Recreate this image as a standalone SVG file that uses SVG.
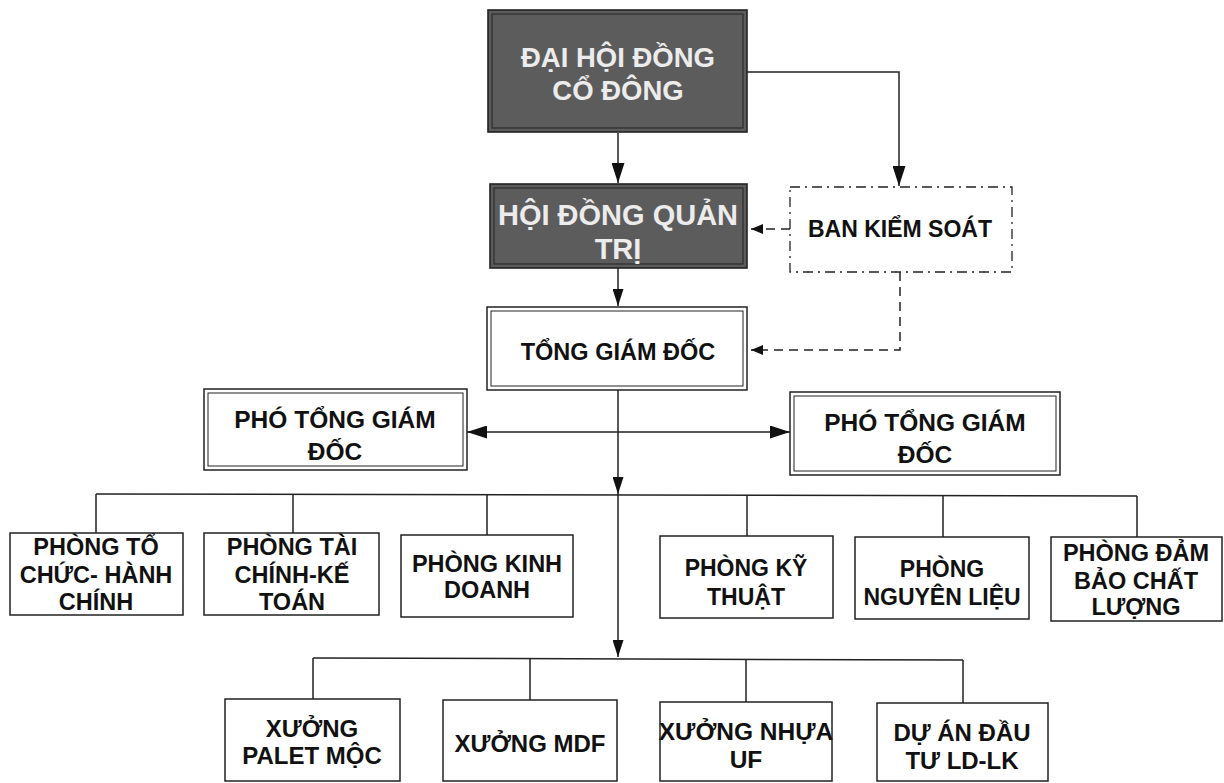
<svg xmlns="http://www.w3.org/2000/svg" width="1224" height="783" viewBox="0 0 1224 783">
<style>
.bg{fill:#ffffff}
.outer{fill:none;stroke:#222;stroke-width:1.6}
.inner{fill:none;stroke:#222;stroke-width:1}
.dark{fill:#5c5c5c}
.box{fill:#fff;stroke:#222;stroke-width:1.5}
.wt{font-family:"Liberation Sans",Arial,sans-serif;font-weight:bold;fill:#ececec;text-anchor:middle}
.bt{font-family:"Liberation Sans",Arial,sans-serif;font-weight:bold;fill:#111;text-anchor:middle}
.ln{fill:none;stroke:#222;stroke-width:1.5}
.dash{fill:none;stroke:#222;stroke-width:1.5;stroke-dasharray:9 6}
.dashdot{fill:#fff;stroke:#222;stroke-width:1.3;stroke-dasharray:10 5 2 5}
</style>
<defs>
<marker id="ah" viewBox="0 0 20 13" refX="20" refY="6.5" markerUnits="userSpaceOnUse" markerWidth="20" markerHeight="13" orient="auto-start-reverse">
<path d="M0,0 L20,6.5 L0,13 z" fill="#111"/>
</marker>
<marker id="ahm" viewBox="0 0 17 11" refX="17" refY="5.5" markerUnits="userSpaceOnUse" markerWidth="17" markerHeight="11" orient="auto">
<path d="M0,0 L17,5.5 L0,11 z" fill="#111"/>
</marker>
<marker id="ahs" viewBox="0 0 12 10" refX="12" refY="5" markerUnits="userSpaceOnUse" markerWidth="12" markerHeight="10" orient="auto">
<path d="M0,0 L12,5 L0,10 z" fill="#111"/>
</marker>
</defs>
<rect class="bg" x="0" y="0" width="1224" height="783"/>

<g id="connectors">
<path class="ln" d="M618,133 L618,183" marker-end="url(#ah)"/>
<path class="ln" d="M747,72 L899,72 L899,186" marker-end="url(#ah)"/>
<path class="dash" d="M790,229 L751,229" marker-end="url(#ahs)"/>
<path class="dash" d="M900,272 L900,350 L751,350" marker-end="url(#ahs)"/>
<path class="ln" d="M618,268 L618,306" marker-end="url(#ahm)"/>
<path class="ln" d="M618,390 L618,494" marker-end="url(#ahm)"/>
<path class="ln" d="M618,494 L618,657" marker-end="url(#ahm)"/>
<path class="ln" d="M467,432 L790,432" marker-start="url(#ah)" marker-end="url(#ah)"/>
<path class="ln" d="M96,494 L1137,496"/>
<path class="ln" d="M96,494 L96,533 M293,494 L293,533 M487,495 L487,535 M747,495 L747,536 M943,496 L943,537 M1137,496 L1137,537"/>
<path class="ln" d="M313,658 L963,660"/>
<path class="ln" d="M313,658 L313,699 M530,658 L530,700 M746,659 L746,702 M963,660 L963,703"/>
</g>

<g id="dhdcd">
<rect class="dark" x="488" y="10" width="259" height="122"/>
<rect class="outer" x="488" y="10" width="259" height="122"/>
<rect class="inner" x="492" y="14" width="251" height="114"/>
<text class="wt" x="618" y="67" font-size="27.5">ĐẠI HỘI ĐỒNG</text>
<text class="wt" x="618" y="100" font-size="27.5">CỔ ĐÔNG</text>
</g>

<g id="hdqt">
<rect class="dark" x="490" y="184" width="257" height="84"/>
<rect class="outer" x="490" y="184" width="257" height="84"/>
<rect class="inner" x="494" y="188" width="249" height="76"/>
<text class="wt" x="618" y="225" font-size="29">HỘI ĐỒNG QUẢN</text>
<text class="wt" x="618" y="259" font-size="29">TRỊ</text>
</g>

<g id="bks">
<rect class="dashdot" x="790" y="187" width="222" height="85"/>
<text class="bt" x="900" y="237" font-size="23">BAN KIỂM SOÁT</text>
</g>

<g id="tgd">
<rect class="box" x="487" y="307" width="260" height="83"/>
<rect class="inner" x="491" y="311" width="252" height="75"/>
<text class="bt" x="618" y="360" font-size="23.5">TỔNG GIÁM ĐỐC</text>
</g>

<g id="ptgd-left">
<rect class="box" x="204" y="389" width="263" height="81"/>
<rect class="inner" x="208" y="393" width="255" height="73"/>
<text class="bt" x="335" y="428" font-size="24.5">PHÓ TỔNG GIÁM</text>
<text class="bt" x="335" y="460" font-size="24.5">ĐỐC</text>
</g>

<g id="ptgd-right">
<rect class="box" x="790" y="392" width="270" height="83"/>
<rect class="inner" x="794" y="396" width="262" height="75"/>
<text class="bt" x="925" y="431" font-size="24.5">PHÓ TỔNG GIÁM</text>
<text class="bt" x="925" y="463" font-size="24.5">ĐỐC</text>
</g>

<g id="p-tochuc">
<rect class="box" x="10" y="533" width="173" height="82"/>
<text class="bt" x="96" y="555" font-size="23.5">PHÒNG TỔ</text>
<text class="bt" x="96" y="583" font-size="23.5">CHỨC- HÀNH</text>
<text class="bt" x="96" y="610" font-size="23.5">CHÍNH</text>
</g>

<g id="p-taichinh">
<rect class="box" x="204" y="533" width="175" height="82"/>
<text class="bt" x="292" y="555" font-size="23.5">PHÒNG TÀI</text>
<text class="bt" x="292" y="583" font-size="23.5">CHÍNH-KẾ</text>
<text class="bt" x="292" y="610" font-size="23.5">TOÁN</text>
</g>

<g id="p-kinhdoanh">
<rect class="box" x="401" y="535" width="172" height="82"/>
<text class="bt" x="487" y="572" font-size="23.5">PHÒNG KINH</text>
<text class="bt" x="487" y="598" font-size="23.5">DOANH</text>
</g>

<g id="p-kythuat">
<rect class="box" x="660" y="536" width="173" height="82"/>
<text class="bt" x="746" y="576" font-size="23">PHÒNG KỸ</text>
<text class="bt" x="746" y="605" font-size="23">THUẬT</text>
</g>

<g id="p-nguyenlieu">
<rect class="box" x="855" y="537" width="174" height="82"/>
<text class="bt" x="942" y="577" font-size="23">PHÒNG</text>
<text class="bt" x="942" y="605" font-size="23">NGUYÊN LIỆU</text>
</g>

<g id="p-chatluong">
<rect class="box" x="1051" y="537" width="171" height="84"/>
<text class="bt" x="1136" y="561" font-size="23.5">PHÒNG ĐẢM</text>
<text class="bt" x="1136" y="589" font-size="23.5">BẢO CHẤT</text>
<text class="bt" x="1136" y="615" font-size="23.5">LƯỢNG</text>
</g>

<g id="x-palet">
<rect class="box" x="225" y="699" width="175" height="82"/>
<text class="bt" x="312" y="737" font-size="24">XƯỞNG</text>
<text class="bt" x="312" y="764" font-size="24">PALET MỘC</text>
</g>

<g id="x-mdf">
<rect class="box" x="443" y="700" width="174" height="81"/>
<text class="bt" x="530" y="752" font-size="24">XƯỞNG MDF</text>
</g>

<g id="x-nhua">
<rect class="box" x="660" y="702" width="172" height="79"/>
<text class="bt" x="746" y="740" font-size="24.5">XƯỞNG NHỰA</text>
<text class="bt" x="746" y="768" font-size="24.5">UF</text>
</g>

<g id="duan">
<rect class="box" x="877" y="703" width="171" height="78"/>
<text class="bt" x="962" y="741" font-size="24">DỰ ÁN ĐẦU</text>
<text class="bt" x="962" y="769" font-size="24">TƯ LD-LK</text>
</g>
</svg>
